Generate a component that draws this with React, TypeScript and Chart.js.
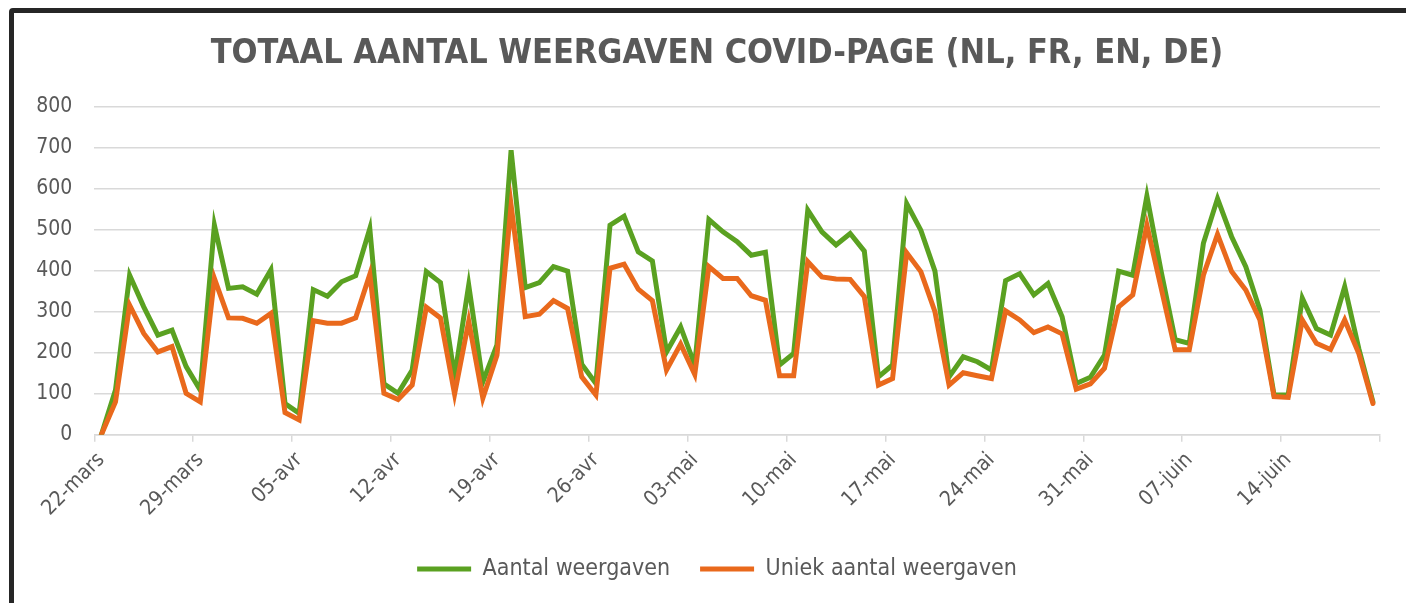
import React, { useEffect, useRef } from "react";
import { Chart, registerables } from "chart.js";

Chart.register(...registerables);

const TITLE = "TOTAAL AANTAL WEERGAVEN COVID-PAGE (NL, FR, EN, DE)";
const SERIES_NAMES = ["Aantal weergaven", "Uniek aantal weergaven"];

const monthNames = ["mars", "avr", "mai", "juin"];
const monthLengths = [31, 30, 31, 30];
const firstDay = 22;
const dayCount = 91;

const tickLabels = [
  "22-mars", "29-mars", "05-avr", "12-avr", "19-avr", "26-avr", "03-mai",
  "10-mai", "17-mai", "24-mai", "31-mai", "07-juin", "14-juin",
];

const aantal = [
  0, 109, 389, 312, 243, 255, 166, 109, 511, 357,
  361, 343, 402, 76, 52, 354, 338, 373, 388, 503,
  124, 101, 158, 398, 371, 141, 365, 129, 219, 694,
  359, 371, 410, 399, 172, 125, 511, 533, 446, 424,
  202, 263, 170, 525, 495, 471, 438, 445, 170, 198,
  548, 495, 463, 491, 448, 141, 170, 564, 499, 399,
  141, 190, 178, 158, 376, 393, 341, 369, 288, 125,
  140, 194, 399, 389, 582, 400, 232, 223, 467, 576,
  483, 410, 304, 97, 97, 333, 259, 243, 361, 210,
  80,
];

const uniek = [
  0, 80, 316, 247, 202, 215, 101, 80, 381, 285,
  284, 272, 296, 54, 36, 278, 272, 272, 285, 391,
  101, 86, 121, 311, 285, 99, 277, 89, 194, 560,
  288, 294, 327, 308, 141, 97, 406, 416, 355, 327,
  158, 221, 147, 410, 381, 381, 339, 328, 144, 144,
  422, 385, 380, 379, 337, 121, 137, 444, 398, 300,
  121, 151, 144, 137, 302, 280, 249, 263, 246, 111,
  124, 162, 312, 341, 511, 359, 207, 207, 389, 489,
  398, 353, 280, 93, 91, 280, 223, 208, 280, 198,
  76,
];

function buildCategories(): string[] {
  const out: string[] = [];
  let m = 0;
  let d = firstDay;
  while (out.length < dayCount) {
    out.push(String(d).padStart(2, "0") + "-" + monthNames[m]);
    d++;
    if (d > monthLengths[m]) {
      d = 1;
      m++;
    }
  }
  return out;
}

const categories = buildCategories();

const FONT = "'DejaVu Sans Condensed', 'DejaVu Sans', sans-serif";
const TEXT = "#595959";
const GRID = "#d9d9d9";
const GREEN = "#5aa121";
const ORANGE = "#e9691c";

export default function App() {
  const canvasRef = useRef<HTMLCanvasElement | null>(null);

  useEffect(() => {
    const canvas = canvasRef.current;
    if (!canvas) return;
    const chart = new Chart(canvas, {
      type: "line",
      data: {
        labels: categories,
        datasets: [
          {
            label: SERIES_NAMES[0],
            data: aantal,
            borderColor: GREEN,
            backgroundColor: GREEN,
            borderWidth: 5,
            borderCapStyle: "round",
            pointRadius: 0,
            tension: 0,
            order: 1,
            yAxisID: "y",
          },
          {
            label: SERIES_NAMES[1],
            data: uniek,
            borderColor: ORANGE,
            backgroundColor: ORANGE,
            borderWidth: 5,
            borderCapStyle: "round",
            pointRadius: 0,
            tension: 0,
            order: 0,
            yAxisID: "y",
          },
        ],
      },
      options: {
        responsive: false,
        animation: false,
        layout: { padding: { left: 0, right: 0, top: 0, bottom: 12.5 } },
        plugins: {
          title: {
            display: true,
            text: TITLE,
            color: TEXT,
            font: { family: FONT, size: 34, weight: "bold" },
            padding: { top: 21, bottom: 32 },
          },
          legend: {
            position: "bottom",
            labels: {
              usePointStyle: true,
              pointStyle: "line",
              pointStyleWidth: 54,
              boxWidth: 54,
              padding: 30,
              color: TEXT,
              font: { family: FONT, size: 23 },
              sort: (a: any, b: any) => a.datasetIndex - b.datasetIndex,
            },
          },
          tooltip: { enabled: false },
        },
        scales: {
          x: {
            offset: true,
            grid: {
              offset: true,
              drawOnChartArea: false,
              drawTicks: true,
              tickLength: 7,
              lineWidth: 1.5,
              color: (ctx: any) =>
                ctx.type !== "tick" || ctx.index % 7 === 0 ? GRID : "rgba(0,0,0,0)",
            },
            border: { display: true, color: GRID, width: 1.5 },
            ticks: {
              autoSkip: false,
              minRotation: 45,
              maxRotation: 45,
              padding: 6,
              color: TEXT,
              font: { family: FONT, size: 21 },
              callback: (_v: any, i: number) =>
                tickLabels.includes(categories[i]) ? categories[i] : "",
            },
            afterFit: (scale: any) => {
              scale.height = 92.8;
            },
          },
          y: {
            position: "left",
            min: 0,
            max: 800,
            ticks: {
              stepSize: 100,
              padding: 22,
              color: TEXT,
              font: { family: FONT, size: 21 },
            },
            grid: { color: GRID, lineWidth: 1.5, drawTicks: false },
            border: { display: false },
            afterFit: (scale: any) => {
              scale.width = 80.3;
            },
          },
          yRight: {
            position: "right",
            display: true,
            grid: { display: false, drawTicks: false },
            ticks: { display: false },
            border: { display: false },
            afterFit: (scale: any) => {
              scale.width = 40;
            },
          },
        },
      },
    });
    return () => chart.destroy();
  }, []);

  return (
    <div
      style={{
        position: "fixed",
        left: 0,
        top: 0,
        width: 1406,
        height: 603,
        overflow: "hidden",
        background: "#ffffff",
      }}
    >
      <div
        style={{
          position: "absolute",
          left: 9,
          top: 8,
          width: 1500,
          height: 700,
          border: "5px solid #262626",
          borderRadius: 4,
          boxSizing: "border-box",
        }}
      />
      <canvas
        ref={canvasRef}
        width={1406}
        height={590}
        style={{ position: "absolute", left: 14, top: 13, width: 1406, height: 590 }}
      />
    </div>
  );
}
